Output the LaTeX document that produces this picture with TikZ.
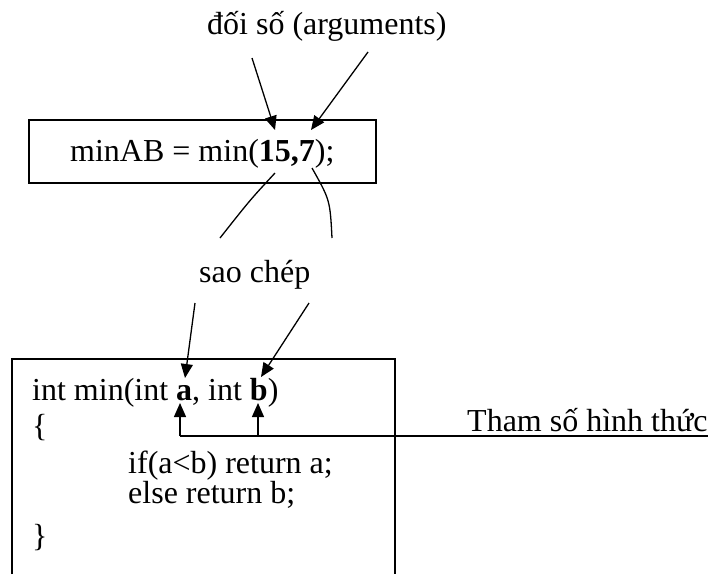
\documentclass[tikz,border=0pt]{standalone}
\usepackage{fontspec}
\setmainfont{Liberation Serif}
\usetikzlibrary{arrows.meta}

\begin{document}
\begin{tikzpicture}[x=1pt,y=-1pt,
    txt/.style={inner sep=0pt,anchor=base west,font=\fontsize{32}{32}\selectfont},
    ln/.style={line width=1.3pt},
    tip/.style={ln,-{Triangle[length=14pt,width=12pt]}}]
  \useasboundingbox (0,0) rectangle (708,574);
  % labels
  \node[txt] (args) at (207,34) {đối số (arguments)};
  \node[txt] (copy) at (199,282) {sao chép};
  \node[txt] (formal) at (467,431) {Tham số hình thức};
  % call box
  \draw[ln] (29,120) rectangle (376,183);
  \node[txt] (call) at (70,161) {minAB = min(\textbf{15,7});};
  % function box, cut off at the bottom
  \draw[ln] (12,574) -- (12,359) -- (395,359) -- (395,574);
  \node[txt] (head) at (32,400) {int min(int \textbf{a}, int \textbf{b})};
  \node[txt] (open) at (32,436) {\{};
  \node[txt] (ifline) at (128,473) {if(a<b) return a;};
  \node[txt] (elseline) at (128,503) {else return b;};
  \node[txt] (close) at (32,546) {\}};
  % arrow ends
  \coordinate (v15) at (275,130);
  \coordinate (v7) at (311,130);
  \coordinate (pa) at (185,378);
  \coordinate (pb) at (261,377);
  \coordinate (bus) at (708,436);
  % arguments
  \draw[tip] (252,58) -- (v15);
  \draw[tip] (368,52) -- (v7);
  % copy
  \draw[ln] (275,173) .. controls (250,200) .. (220,238);
  \draw[ln] (312,168) .. controls (330,200) .. (332,238);
  \draw[tip] (195,303) -- (pa);
  \draw[tip] (309,303) -- (pb);
  % formal parameters
  \draw[ln] (bus) -- (180,436);
  \draw[tip] (180,436) -- (180,403);
  \draw[tip] (258,436) -- (258,403);
\end{tikzpicture}
\end{document}
